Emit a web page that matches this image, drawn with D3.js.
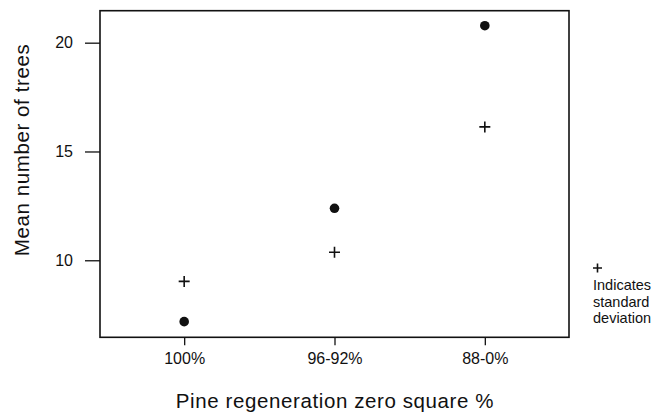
<!DOCTYPE html>
<html lang="en">
<head>
  <meta charset="UTF-8">
  <title>Mean number of trees by pine regeneration</title>
  <script src="https://d3js.org/d3.v7.min.js"></script>
  <style>
    body {
      margin: 0;
      background: #fff;
      font-family: "Liberation Sans", Arial, sans-serif;
    }
    .axis text {
      font-family: "Liberation Sans", Arial, sans-serif;
      font-size: 16px;
      fill: #111;
    }
    .axis line {
      stroke: #111;
      stroke-width: 1.3px;
    }
    .label {
      font-size: 20.5px;
      letter-spacing: 0.6px;
      fill: #111;
    }
    .note {
      font-size: 14.5px;
      fill: #111;
    }
  </style>
</head>
<body>
<div id="chart"></div>

<script>
// values
const categories = ["100%", "96-92%", "88-0%"];
const meanTrees = [7.18, 12.39, 20.78];
const stdDev = [9.03, 10.37, 16.13];
const yTicks = [10, 15, 20];
const noteLines = ["Indicates", "standard", "deviation"];

const W = 662, H = 412;
const margin = { top: 10.7, right: 93, bottom: 74.7, left: 100 };
const width = W - margin.left - margin.right;
const height = H - margin.top - margin.bottom;

const svg = d3.select("#chart")
  .append("svg")
  .attr("width", W)
  .attr("height", H);

const chart = svg.append("g")
  .attr("transform", `translate(${margin.left},${margin.top})`);

const x = d3.scalePoint()
  .domain(categories)
  .range([0, width])
  .padding(0.56);

const y = d3.scaleLinear()
  .domain([6.46, 21.47])
  .range([height, 0]);

// y axis, ticks outside the box
const yAxis = chart.append("g")
  .attr("class", "axis")
  .call(d3.axisLeft(y).tickValues(yTicks).tickSize(15).tickPadding(12));
yAxis.select(".domain").remove();

// x axis, short ticks down
const xAxis = chart.append("g")
  .attr("class", "axis")
  .attr("transform", `translate(0,${height})`)
  .call(d3.axisBottom(x).tickSize(8).tickPadding(7));
xAxis.select(".domain").remove();

// frame
chart.append("rect")
  .attr("width", width)
  .attr("height", height)
  .attr("fill", "none")
  .attr("stroke", "#111")
  .attr("stroke-width", 1.6);

const rows = categories.map((c, i) => ({ cat: c, mean: meanTrees[i], sd: stdDev[i] }));

// mean values
chart.selectAll(".dot")
  .data(rows)
  .enter().append("circle")
  .attr("class", "dot")
  .attr("cx", d => x(d.cat))
  .attr("cy", d => y(d.mean))
  .attr("r", 4.8)
  .attr("fill", "#111");

// standard deviation crosses
const half = 5.5;
chart.selectAll(".sd")
  .data(rows)
  .enter().append("path")
  .attr("class", "sd")
  .attr("d", d => {
    const cx = x(d.cat), cy = y(d.sd);
    return `M${cx - half},${cy}H${cx + half}M${cx},${cy - half}V${cy + half}`;
  })
  .attr("stroke", "#111")
  .attr("stroke-width", 1.6)
  .attr("fill", "none");

// axis titles
svg.append("text")
  .attr("class", "label")
  .attr("x", 335)
  .attr("y", 408)
  .attr("text-anchor", "middle")
  .text("Pine regeneration zero square %");

svg.append("text")
  .attr("class", "label")
  .attr("transform", "translate(29,150) rotate(-90)")
  .attr("text-anchor", "middle")
  .text("Mean number of trees");

// note on the right
const note = svg.append("g")
  .attr("transform", `translate(${margin.left + width + 24},0)`);

note.append("path")
  .attr("d", "M0,268H9M4.5,263.5V272.5")
  .attr("stroke", "#111")
  .attr("stroke-width", 1.6);

note.selectAll(".note")
  .data(noteLines)
  .enter().append("text")
  .attr("class", "note")
  .attr("x", 0)
  .attr("y", (d, i) => 290 + i * 16.5)
  .text(d => d);
</script>
</body>
</html>
